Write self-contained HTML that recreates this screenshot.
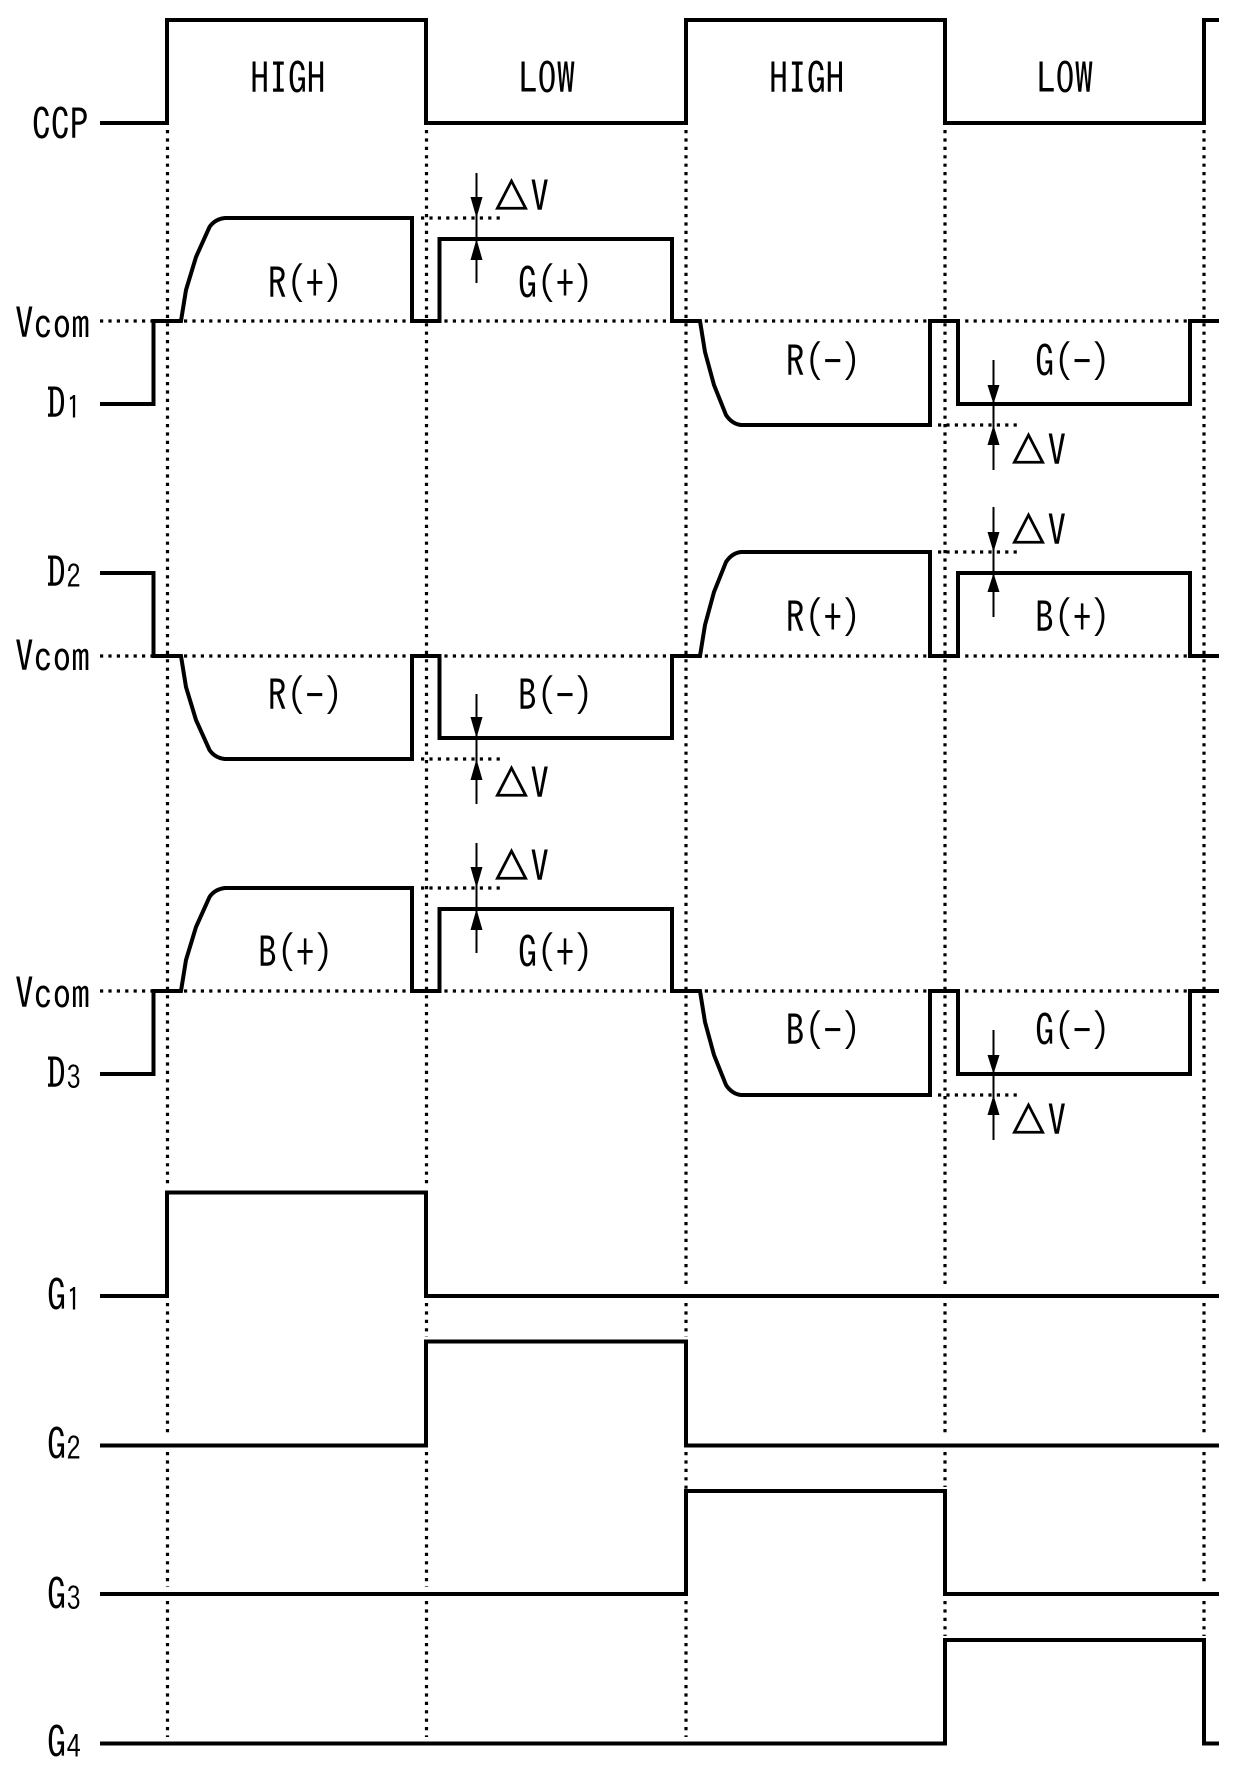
<!DOCTYPE html>
<html><head><meta charset="utf-8"><style>
html,body{margin:0;padding:0;background:#fff}
svg{display:block}
text{font-family:"IPAGothic","Liberation Sans","Noto Sans CJK JP",sans-serif;font-size:43px;fill:#000}
.s{font-size:32px}
.t{font-size:41px}
.w{fill:none;stroke:#000;stroke-width:4;stroke-linejoin:miter}
.d{fill:none;stroke:#000;stroke-width:3.2;stroke-dasharray:3.2 5.2}
.a{fill:none;stroke:#000;stroke-width:2}
</style></head><body>
<svg xmlns="http://www.w3.org/2000/svg" width="1240" height="1771" viewBox="0 0 1240 1771">
<rect width="1240" height="1771" fill="#fff"/>
<defs>
<g id="w">
<path class="d" d="M100 321H1204"/>
<path class="d" d="M421 218H500M938 425H1017"/>
<path class="w" d="M100 404H153.500V321H181L186 290L196 257L209.500 227Q215 219 225 218H412V321H439.500V239H672V321H700L705 352L714 385L726 415Q732 424 741 425H930V321H958V404H1190V321H1219"/>
<path class="a" d="M476.500 173V283M993.500 360V470"/>
<path d="M470.500 197H482.500L476.500 218ZM470.500 260H482.500L476.500 239ZM987.500 385H999.500L993.500 404ZM987.500 445H999.500L993.500 425Z" fill="#000"/>
</g>
</defs>
<!-- vertical dotted -->
<path class="d" d="M167.500 130V1188M167.500 1303V1437M167.500 1452V1587M167.500 1601V1737"/>
<path class="d" d="M426.500 130V1188M426.500 1303V1337M426.500 1452V1587M426.500 1601V1737"/>
<path class="d" d="M686 130V1288M686 1303V1337M686 1452V1587M686 1601V1737"/>
<path class="d" d="M945 130V1288M945 1303V1437M945 1452V1487M945 1601V1636"/>
<path class="d" d="M1204 130V1288M1204 1303V1437M1204 1452V1586M1204 1601V1636"/>
<!-- CCP -->
<path class="w" d="M100 123H167V20H426V123H686V20H945V123H1204V20H1219"/>
<!-- data lines -->
<use href="#w"/>
<use href="#w" transform="translate(0,977) scale(1,-1)"/>
<use href="#w" transform="translate(0,670)"/>
<!-- gate lines -->
<path class="w" d="M100 1296H167V1192.500H426V1296H1219"/>
<path class="w" d="M100 1445.500H426V1341.500H686V1445.500H1219"/>
<path class="w" d="M100 1594H686V1491H945V1594H1219"/>
<path class="w" d="M100 1743.500H945V1640H1204V1743.500H1219"/>
<!-- labels -->
<g transform="scale(.875 1)">
<text x="286" y="94">HIGH</text><text x="593" y="94">LOW</text>
<text x="879" y="94">HIGH</text><text x="1185" y="94">LOW</text>
<text x="36.600" y="140">CCP</text>
<text x="17" y="339">Vcom</text><text x="17" y="672">Vcom</text><text x="17" y="1009">Vcom</text>
<text x="53.700" y="419">D<tspan class="s" dx="1">1</tspan></text>
<text x="53.700" y="588">D<tspan class="s" dx="1">2</tspan></text>
<text x="53.700" y="1089">D<tspan class="s" dx="1">3</tspan></text>
<text x="53.700" y="1311">G<tspan class="s" dx="1">1</tspan></text>
<text x="53.700" y="1460">G<tspan class="s" dx="1">2</tspan></text>
<text x="53.700" y="1610">G<tspan class="s" dx="1">3</tspan></text>
<text x="53.700" y="1758">G<tspan class="s" dx="1">4</tspan></text>
<text x="306" y="299">R(+)</text><text x="592" y="299">G(+)</text>
<text x="898" y="377">R(−)</text><text x="1183" y="377">G(−)</text>
<text x="306" y="711">R(−)</text><text x="592" y="711">B(−)</text>
<text x="898" y="633">R(+)</text><text x="1183" y="633">B(+)</text>
<text x="295" y="968">B(+)</text><text x="592" y="968">G(+)</text>
<text x="898" y="1046">B(−)</text><text x="1183" y="1046">G(−)</text>
<text x="606" y="212">V</text><text x="1197" y="466">V</text>
<text x="1197" y="546">V</text><text x="606" y="799">V</text>
<text x="606" y="882">V</text><text x="1197" y="1136">V</text>
</g>
<text class="t" x="491" y="210">△</text><text class="t" x="1008" y="464">△</text>
<text class="t" x="1008" y="544">△</text><text class="t" x="491" y="797">△</text>
<text class="t" x="491" y="880">△</text><text class="t" x="1008" y="1134">△</text>
</svg>
</body></html>
